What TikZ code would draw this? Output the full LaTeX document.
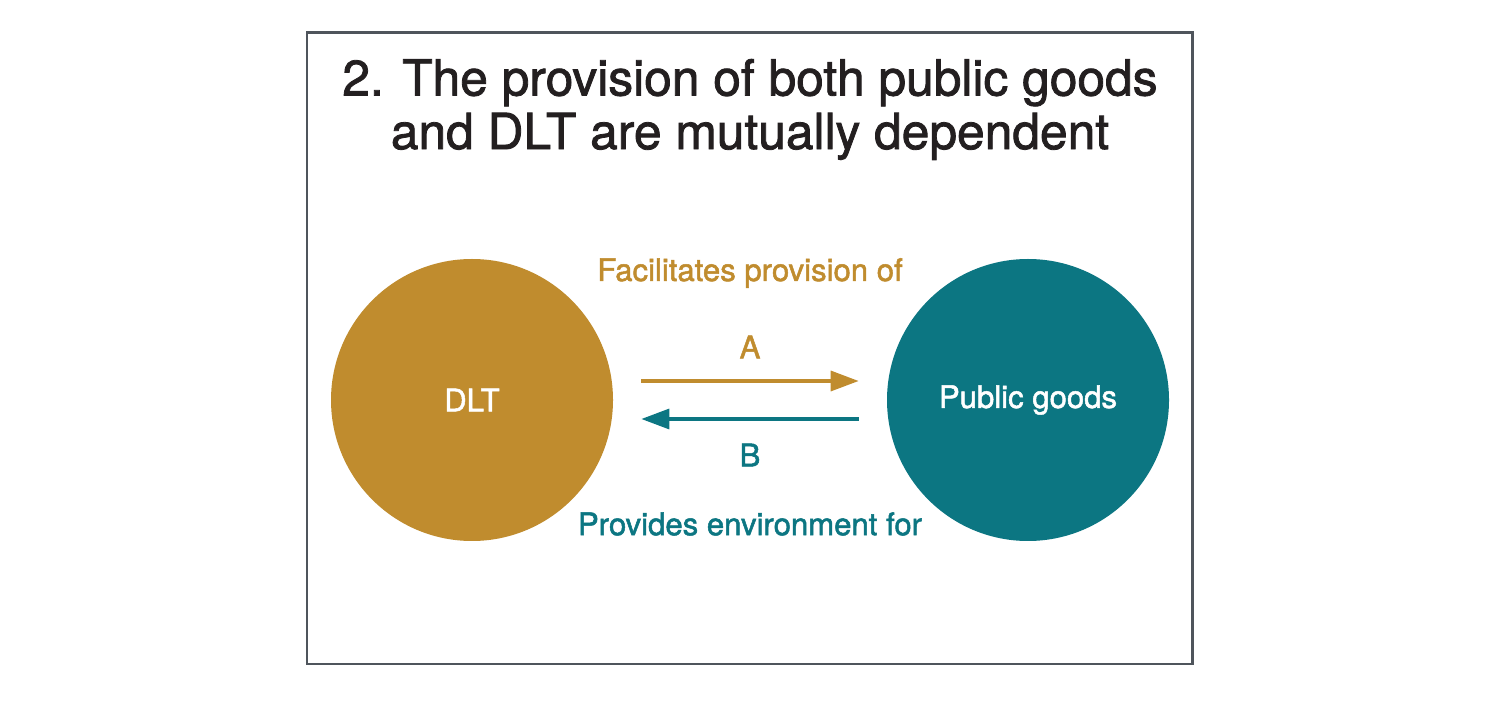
\documentclass[tikz,border=0pt]{standalone}
\usepackage{fontspec}
\setmainfont{TeX Gyre Heros}
\newfontfamily\medfont[FakeBold=1.6]{TeX Gyre Heros}
\usetikzlibrary{arrows.meta}
\definecolor{dltgold}{HTML}{C08C2E}
\definecolor{pgteal}{HTML}{0C7682}
\definecolor{framegray}{HTML}{4F555C}
\definecolor{titleink}{HTML}{231F20}
\tikzset{
  disc/.style={circle, minimum size=5.64cm, inner sep=0pt, text=white,
    font=\medfont\fontsize{17.7}{20}\selectfont},
  flow/.style={line width=1.9pt, -{Triangle[length=0.56cm,width=0.4cm]}},
  tag/.style={font=\medfont\fontsize{17.7}{20}\selectfont, inner sep=0pt}
}
\begin{document}
\begin{tikzpicture}
\useasboundingbox (0,0) rectangle (30,14);
\fill[white] (0,0) rectangle (30,14);
\draw[framegray, line width=1.7pt] (6.14, 0.72) rectangle (23.84, 13.34);
\node[align=center, text=titleink, font=\medfont\fontsize{28.3}{30.5}\selectfont] (title) at (15, 11.81)
  {2. The provision of both public goods\\and DLT are mutually dependent};
\node[disc, fill=dltgold] (dlt) at (9.44, 6.0) {DLT};
\node[disc, fill=pgteal] (pg) at (20.56, 6.0) {Public goods};
\draw[flow, dltgold] ([xshift=0.56cm, yshift=0.38cm]dlt.east) -- ([xshift=-0.56cm, yshift=0.38cm]pg.west);
\draw[flow, pgteal] ([xshift=-0.56cm, yshift=-0.38cm]pg.west) -- ([xshift=0.56cm, yshift=-0.38cm]dlt.east);
\node[tag, text=dltgold] (labA) at (15, 7.06) {A};
\node[tag, text=pgteal] (labB) at (15, 4.9) {B};
\node[tag, text=dltgold] (facil) at (15, 8.54) {Facilitates provision of};
\node[tag, text=pgteal] (envir) at (15, 3.52) {Provides environment for};
\end{tikzpicture}
\end{document}
